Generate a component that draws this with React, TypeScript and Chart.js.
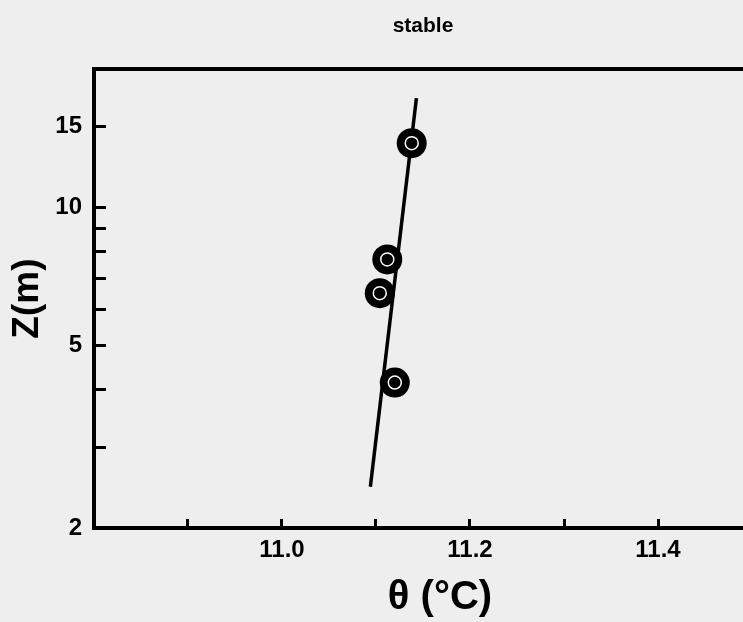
import React, { useEffect, useRef } from "react";
import { Chart, registerables } from "chart.js";

Chart.register(...registerables);

// Measured potential temperature (°C) and height (m)
const THETA_POINTS = [11.138, 11.112, 11.104, 11.12];
const Z_POINTS = [13.8, 7.7, 6.5, 4.15];

// Fitted profile line end points
const FIT_THETA = [11.094, 11.143];
const FIT_Z = [2.46, 17.3];

// Axes
const THETA_RANGE = [10.8, 11.5];
const Z_RANGE = [2, 20];
const THETA_TICKS = [10.9, 11.0, 11.1, 11.2, 11.3, 11.4, 11.5];
const THETA_LABELS = [11.0, 11.2, 11.4];
const Z_TICKS = [2, 3, 4, 5, 6, 7, 8, 9, 10, 15];
const Z_LABELS = [2, 5, 10, 15];

const TITLE = "stable";
const X_TITLE = "θ (°C)";
const Y_TITLE = "Z(m)";

const FONT = "'Liberation Sans', Arial, Helvetica, sans-serif";

// Draws the x-axis title slightly right of the plot centre, as in the original
const xTitlePlugin = {
  id: "xTitle",
  afterDraw(chart: any) {
    const { ctx, chartArea } = chart;
    ctx.save();
    ctx.font = `bold 40px ${FONT}`;
    ctx.fillStyle = "#000";
    ctx.textAlign = "center";
    ctx.textBaseline = "middle";
    ctx.fillText(X_TITLE, (chartArea.left + chartArea.right) / 2 + 17, chart.height - 24);
    ctx.restore();
  },
};

export default function App() {
  const ref = useRef<HTMLCanvasElement | null>(null);

  useEffect(() => {
    if (!ref.current) return;
    const pts = THETA_POINTS.map((x, i) => ({ x, y: Z_POINTS[i] }));
    const fit = FIT_THETA.map((x, i) => ({ x, y: FIT_Z[i] }));
    const chart = new Chart(ref.current, {
      type: "scatter",
      data: {
        datasets: [
          {
            label: "inner",
            data: pts,
            pointRadius: 6.5,
            backgroundColor: "#000",
            borderColor: "#fff",
            borderWidth: 1.5,
            showLine: false,
          },
          {
            label: "outer",
            data: pts,
            pointRadius: 15,
            backgroundColor: "#000",
            borderColor: "#000",
            borderWidth: 0,
            showLine: false,
          },
          {
            label: "fit",
            data: fit,
            showLine: true,
            borderColor: "#000",
            borderWidth: 3.5,
            pointRadius: 0,
          },
        ],
      },
      plugins: [xTitlePlugin],
      options: {
        responsive: false,
        animation: false,
        events: [],
        layout: { autoPadding: false, padding: { left: 0, right: 0, top: 0, bottom: 0 } },
        plugins: {
          legend: { display: false },
          tooltip: { enabled: false },
          title: {
            display: true,
            text: TITLE,
            fullSize: false,
            color: "#000",
            font: { family: FONT, size: 21, weight: "bold" },
            padding: { top: 14, bottom: 30 },
          },
        },
        scales: {
          x: {
            type: "linear",
            position: "bottom",
            min: THETA_RANGE[0],
            max: THETA_RANGE[1],
            afterBuildTicks: (s: any) => {
              s.ticks = THETA_TICKS.map((v) => ({ value: v }));
            },
            afterFit: (s: any) => {
              s.height = 94;
              s.paddingLeft = 0;
              s.paddingRight = 0;
            },
            grid: {
              drawOnChartArea: false,
              drawTicks: true,
              tickLength: -9,
              tickWidth: 3,
              tickColor: "#000",
            },
            border: { display: true, width: 4, color: "#000" },
            ticks: {
              padding: 17,
              color: "#000",
              autoSkip: false,
              maxRotation: 0,
              font: { family: FONT, size: 24, weight: "bold" },
              callback: (v: any) =>
                THETA_LABELS.some((l) => Math.abs(l - Number(v)) < 1e-6)
                  ? Number(v).toFixed(1)
                  : "",
            },
            title: { display: false },
          },
          x2: {
            type: "linear",
            position: "top",
            display: true,
            grid: { display: false },
            ticks: { display: false },
            border: { display: true, width: 4, color: "#000" },
            afterFit: (s: any) => {
              s.height = 0;
              s.paddingLeft = 0;
              s.paddingRight = 0;
            },
          },
          y: {
            type: "logarithmic",
            position: "left",
            min: Z_RANGE[0],
            max: Z_RANGE[1],
            afterBuildTicks: (s: any) => {
              s.ticks = Z_TICKS.map((v) => ({ value: v }));
            },
            afterFit: (s: any) => {
              s.width = 94;
            },
            grid: {
              drawOnChartArea: false,
              drawTicks: true,
              tickLength: -12,
              tickWidth: 3,
              tickColor: "#000",
            },
            border: { display: true, width: 4, color: "#000" },
            ticks: {
              padding: 24,
              color: "#000",
              autoSkip: false,
              font: { family: FONT, size: 24, weight: "bold" },
              callback: (v: any) =>
                Z_LABELS.includes(Number(v)) ? String(v) : "",
            },
            title: {
              display: true,
              text: Y_TITLE,
              color: "#000",
              font: { family: FONT, size: 37, weight: "bold" },
              padding: { top: 6, bottom: 0 },
            },
          },
        },
      },
    } as any);
    return () => chart.destroy();
  }, []);

  return (
    <div
      style={{
        position: "fixed",
        left: 0,
        top: 0,
        width: 743,
        height: 622,
        overflow: "hidden",
        background: "#eeeeee",
      }}
    >
      <canvas
        ref={ref}
        width={752}
        height={622}
        style={{ display: "block", width: 752, height: 622 }}
      />
    </div>
  );
}
